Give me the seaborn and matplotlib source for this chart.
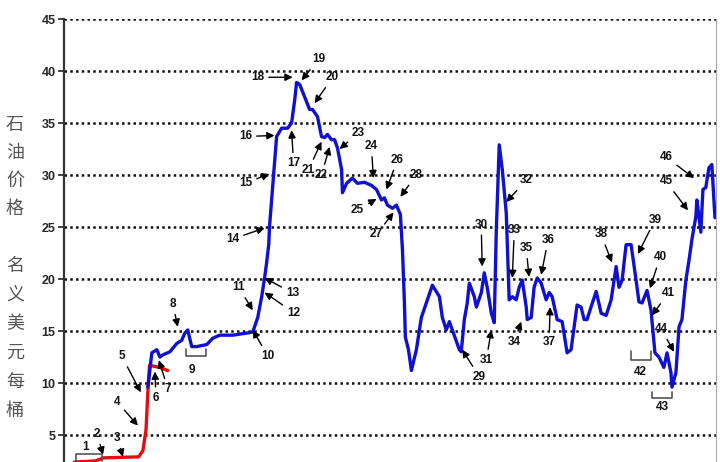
"""Nominal oil price with numbered events, redrawn from the reference chart."""
import matplotlib
matplotlib.use("Agg")
import matplotlib.pyplot as plt
import numpy as np
import pandas as pd
import seaborn as sns

# early period (red)
RED_YEAR = [1970.5, 1971.5, 1971.9, 1973.6, 1973.8, 1973.95, 1974.05, 1974.12, 1974.6, 1975.0]
RED_PRICE = [2.4, 2.5, 2.8, 2.9, 3.5, 5.5, 9.6, 11.7, 11.5, 11.2]

# main series (blue)
BLUE_YEAR = [
    1974.04, 1974.23, 1974.47, 1974.62, 1974.76, 1975.10, 1975.43, 1975.67, 1975.82, 1975.96,
    1976.15, 1976.39, 1976.88, 1977.16, 1977.50, 1978.13, 1978.80, 1979.09, 1979.33, 1979.52,
    1979.66, 1979.76, 1979.86, 1979.90, 1980.00, 1980.10, 1980.24, 1980.48, 1980.77, 1980.96,
    1981.11, 1981.20, 1981.35, 1981.59, 1981.83, 1981.97, 1982.21, 1982.40, 1982.55, 1982.69,
    1982.88, 1983.03, 1983.17, 1983.37, 1983.41, 1983.61, 1983.89, 1984.13, 1984.47, 1984.81,
    1985.05, 1985.29, 1985.43, 1985.58, 1985.82, 1986.01, 1986.20, 1986.30, 1986.39, 1986.44,
    1986.59, 1986.73, 1986.97, 1987.21, 1987.45, 1987.74, 1988.08, 1988.22, 1988.41, 1988.56,
    1988.70, 1989.04, 1989.13, 1989.28, 1989.42, 1989.52, 1989.76, 1989.86, 1990.10, 1990.24,
    1990.38, 1990.58, 1990.72, 1990.82, 1990.96, 1991.11, 1991.30, 1991.44, 1991.59, 1991.78,
    1991.92, 1992.07, 1992.26, 1992.31, 1992.50, 1992.64, 1992.79, 1992.98, 1993.22, 1993.37,
    1993.51, 1993.75, 1993.99, 1994.23, 1994.42, 1994.71, 1994.90, 1995.05, 1995.19, 1995.38,
    1995.63, 1995.87, 1996.11, 1996.35, 1996.59, 1996.73, 1996.88, 1997.07, 1997.31, 1997.55,
    1997.69, 1997.84, 1998.08, 1998.27, 1998.46, 1998.65, 1998.89, 1999.04, 1999.23, 1999.28,
    1999.47, 1999.62, 1999.76, 1999.95, 2000.10, 2000.24, 2000.43, 2000.48, 2000.67, 2000.77,
    2000.91, 2001.06, 2001.20, 2001.35,
]
BLUE_PRICE = [
    9.6, 12.9, 13.2, 12.5, 12.7, 13.0, 13.8, 14.1, 14.8, 15.1,
    13.5, 13.5, 13.7, 14.3, 14.6, 14.6, 14.8, 14.9, 16.3, 18.3,
    20.1, 21.6, 23.3, 25.1, 27.6, 30.0, 33.7, 34.5, 34.5, 35.0,
    37.2, 38.9, 38.7, 37.5, 36.3, 36.3, 35.6, 33.7, 33.6, 33.9,
    33.4, 33.4, 32.6, 30.5, 28.3, 29.2, 29.7, 29.2, 29.3, 29.0,
    28.6, 27.6, 27.8, 27.1, 26.8, 27.1, 26.2, 22.8, 18.0, 14.4,
    13.2, 11.2, 13.2, 16.3, 17.7, 19.4, 18.3, 16.3, 15.1, 15.9,
    15.1, 13.2, 13.0, 16.1, 17.7, 19.6, 18.3, 17.3, 18.7, 20.6,
    19.2, 16.7, 15.8, 24.7, 32.9, 30.5, 26.3, 18.0, 18.3, 18.0,
    19.2, 19.9, 17.3, 16.1, 16.3, 19.2, 20.1, 19.6, 18.0, 18.7,
    18.3, 16.1, 15.9, 12.9, 13.2, 17.5, 17.3, 16.1, 16.1, 17.3,
    18.8, 16.7, 16.5, 18.0, 21.2, 19.2, 19.9, 23.3, 23.3, 19.9,
    17.8, 17.7, 18.9, 17.0, 12.9, 12.5, 11.5, 12.9, 11.0, 9.6,
    11.0, 15.4, 16.1, 19.9, 21.8, 23.8, 26.0, 27.6, 24.5, 28.6,
    28.8, 30.7, 31.0, 25.9,
]

Y_TICKS = [5, 10, 15, 20, 25, 30, 35, 40, 45]

# event number, arrow tip (year, price), text offset in pixels
EVENTS = [
    ("2", (1971.88, 3.1), (-6, 21)), ("3", (1972.84, 2.9), (-6, 19)),
    ("4", (1973.56, 5.9), (-21, 24)), ("5", (1973.70, 9.1), (-19, 36)),
    ("6", (1974.38, 11.1), (1, -26)), ("7", (1974.57, 12.2), (9, -29)),
    ("8", (1975.48, 15.4), (-5, 23)), ("10", (1979.09, 15.1), (15, -26)),
    ("11", (1979.09, 17.0), (-14, 23)), ("12", (1979.66, 18.7), (29, -20)),
    ("13", (1979.66, 20.1), (28, -15)), ("14", (1979.66, 24.9), (-32, -11)),
    ("15", (1979.90, 30.1), (-24, -9)), ("16", (1980.14, 33.8), (-29, -1)),
    ("17", (1980.96, 34.3), (2, -33)), ("18", (1981.01, 39.4), (-35, 0)),
    ("19", (1981.44, 39.1), (17, 21)), ("20", (1982.07, 36.9), (18, 26)),
    ("21", (1982.40, 33.2), (-13, -28)), ("22", (1982.79, 32.7), (-8, -28)),
    ("23", (1983.27, 32.5), (19, 16)), ("24", (1984.90, 29.7), (-2, 32)),
    ("25", (1985.05, 27.7), (-19, -11)), ("26", (1985.53, 28.6), (11, 30)),
    ("27", (1985.87, 26.4), (-17, -22)), ("28", (1986.20, 27.9), (16, 22)),
    ("29", (1989.18, 13.2), (17, -27)), ("30", (1990.14, 21.2), (-1, 42)),
    ("31", (1990.58, 15.1), (-5, -30)), ("32", (1991.30, 27.4), (20, 22)),
    ("33", (1991.59, 20.1), (2, 48)), ("34", (1992.02, 15.9), (-7, -20)),
    ("35", (1992.40, 20.2), (-3, 29)), ("36", (1992.98, 20.4), (7, 35)),
    ("37", (1993.41, 17.3), (-1, -35)), ("38", (1996.39, 21.6), (-11, 28)),
    ("39", (1997.64, 22.4), (17, 34)), ("40", (1998.22, 19.1), (10, 31)),
    ("41", (1998.32, 16.5), (16, 22)), ("44", (1999.38, 13.0), (-13, 23)),
    ("45", (2000.05, 26.6), (-22, 29)), ("46", (2000.34, 29.7), (-28, 21)),
]

# bracket label, x span, line level, tick end, label position
BRACKETS = [
    ("1", (1970.58, 1971.83), 3.2, 2.5, (1971.06, 3.8)),
    ("9", (1975.87, 1976.83), 12.6, 13.3, (1976.15, 11.25)),
    ("42", (1997.31, 1998.27), 12.2, 13.1, (1997.74, 11.1)),
    ("43", (1998.32, 1999.28), 8.6, 9.1, (1998.80, 7.7)),
]

YLABEL_TOP = "石油价格"
YLABEL_BOTTOM = "名义美元每桶"

sns.set_theme(style="white")
plt.rcParams["font.family"] = ["Liberation Sans", "DejaVu Sans"]

fig = plt.figure(figsize=(7.2, 4.62), dpi=100)
ax = fig.add_axes([64 / 720, 0, 652 / 720, 443 / 462])

red = pd.DataFrame({"year": RED_YEAR, "price": RED_PRICE})
blue = pd.DataFrame({"year": BLUE_YEAR, "price": BLUE_PRICE})
sns.lineplot(data=red, x="year", y="price", ax=ax, color="#e01010",
             lw=2.4, estimator=None, sort=False, zorder=3)
sns.lineplot(data=blue, x="year", y="price", ax=ax, color="#1010d0",
             lw=2.4, estimator=None, sort=False, zorder=4)

ax.set_xlim(1970, 2001.4)
ax.set_ylim(45 - 443 / 10.4, 45)
ax.set_yticks(Y_TICKS)
ax.set_yticklabels([str(t) for t in Y_TICKS], fontweight="bold", fontsize=9)
ax.set_xticks([])
ax.set_xlabel("")
ax.set_ylabel("")
ax.tick_params(axis="y", left=True, length=4, width=1.2, color="#222222", pad=2)
for y in Y_TICKS:
    ax.axhline(y, color="#111111", lw=1.8, ls=(0, (1.0, 1.3)), zorder=1)

ax.spines["top"].set_visible(False)
ax.spines["bottom"].set_visible(False)
ax.spines["left"].set_color("#333333")
ax.spines["left"].set_linewidth(1.6)
ax.spines["right"].set_color("#aaaaaa")
ax.spines["right"].set_linewidth(0.8)

arrow = dict(arrowstyle="-|>", color="black", lw=1.0, mutation_scale=11,
             shrinkA=1, shrinkB=0)
for label, tip, off in EVENTS:
    ax.annotate(label, xy=tip, xytext=off, textcoords="offset pixels",
                ha="center", va="center", fontsize=8.5, fontweight="bold",
                color="#111111", arrowprops=arrow, zorder=5)

for label, (x0, x1), level, tick_end, pos in BRACKETS:
    ax.plot([x0, x0, x1, x1], [tick_end, level, level, tick_end],
            color="#555555", lw=1.2, zorder=5)
    ax.text(pos[0], pos[1], label, ha="center", va="center",
            fontsize=8.5, fontweight="bold", color="#111111", zorder=5)

cjk = ["Noto Sans CJK SC", "DejaVu Sans"]
for i, ch in enumerate(YLABEL_TOP):
    fig.text(15 / 720, 1 - (125 + 28 * i) / 462, ch, ha="center", va="center",
             fontsize=13, color="#555555", family=cjk)
for i, ch in enumerate(YLABEL_BOTTOM):
    fig.text(15 / 720, 1 - (266 + 29 * i) / 462, ch, ha="center", va="center",
             fontsize=13, color="#555555", family=cjk)

fig.savefig("out.png", dpi=100)
